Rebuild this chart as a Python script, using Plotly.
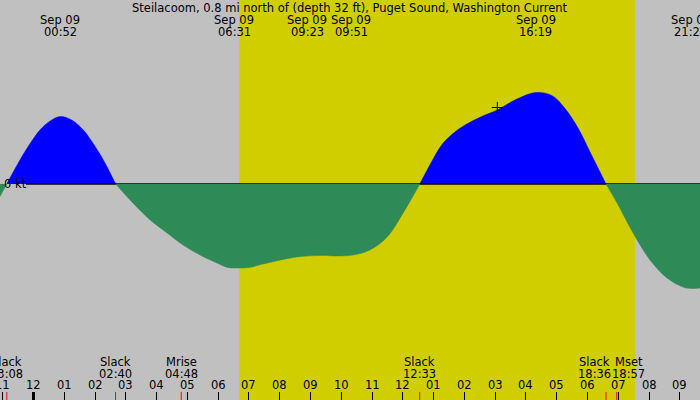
import plotly.graph_objects as go

# -----------------------------
# Data (hours after midnight Sep 09, knots)
# -----------------------------
times_h = [-1.09, -0.87, -0.44, -0.11, 0.21, 0.54, 0.87, 1.24, 1.62, 1.94, 2.27, 2.67,
           3.23, 3.79, 4.34, 4.86, 5.41, 5.96, 6.30, 6.52, 7.00, 7.46, 8.56, 9.38, 9.85,
           10.38, 10.93, 11.49, 12.01, 12.55, 12.94, 13.26, 13.59, 14.02, 14.56, 15.07,
           15.64, 16.32, 16.84, 17.27, 17.70, 18.13, 18.60, 18.96, 19.48, 20.03,
           20.58, 21.10, 21.35, 21.66]
current_kt = [-0.25, 0.0, 0.48, 0.81, 1.08, 1.26, 1.35, 1.28, 1.08, 0.81, 0.48, 0.0,
              -0.38, -0.72, -0.98, -1.22, -1.42, -1.58, -1.67, -1.68, -1.67, -1.60, -1.46, -1.43, -1.44,
              -1.42, -1.32, -1.06, -0.58, 0.0, 0.45, 0.78, 0.99, 1.18, 1.35, 1.48,
              1.68, 1.83, 1.77, 1.51, 1.11, 0.58, 0.0, -0.38, -0.98, -1.52,
              -1.88, -2.06, -2.09, -2.08]

# max / min current events shown along the top
top_times = [0.867, 6.517, 9.383, 9.85, 16.317, 21.35]
top_dates = ["Sep 09"] * 6
top_labels = ["00:52", "06:31", "09:23", "09:51", "16:19", "21:21"]

# slack water and moon events along the bottom
bottom_times = [-0.867, 2.667, 4.8, 12.55, 18.6, 18.95]
bottom_names = ["Slack", "Slack", "Mrise", "Slack", "Slack", "Mset"]
bottom_labels = ["23:08", "02:40", "04:48", "12:33", "18:36", "18:57"]

hour_vals = list(range(-1, 22))
hour_labels = ["11", "12", "01", "02", "03", "04", "05", "06", "07", "08", "09",
               "10", "11", "12", "01", "02", "03", "04", "05", "06", "07", "08", "09"]

sunrise_h = 6.68
sunset_h = 19.54
now_h = 15.07
now_kt = 1.53

title = "Steilacoom, 0.8 mi north of (depth 32 ft), Puget Sound, Washington Current"

# -----------------------------
# Layout constants
# -----------------------------
W, H = 700, 400
X_RANGE = [-1.088, 21.654]
Y_RANGE = [-4.32, 3.68]
PX_PER_H = W / (X_RANGE[1] - X_RANGE[0])
FONT = "DejaVu Sans"
FSIZE = 11.5
GRAY = "#c0c0c0"
DAY = "#d0ce00"
FLOOD = "#0000ff"
EBB = "#2e8b57"


def spread(times, min_px):
    # push overlapping labels apart, keep their mean
    pos = list(times)
    gap = min_px / PX_PER_H
    for i in range(1, len(pos)):
        if pos[i] - pos[i - 1] < gap:
            mid = (pos[i] + pos[i - 1]) / 2
            pos[i - 1] = mid - gap / 2
            pos[i] = mid + gap / 2
    return pos


def py(pix):
    # pixel row from top -> paper y
    return 1 - pix / H


def segments(t, v):
    # split the curve at slack points into flood / ebb pieces
    segs = []
    cur_t, cur_v = [t[0]], [v[0]]
    for ti, vi in zip(t[1:], v[1:]):
        cur_t.append(ti)
        cur_v.append(vi)
        if vi == 0:
            segs.append((cur_t, cur_v))
            cur_t, cur_v = [ti], [vi]
    if len(cur_t) > 1:
        segs.append((cur_t, cur_v))
    return segs


fig = go.Figure()

flood, ebb = [], []
for st, sv in segments(times_h, current_kt):
    if sum(sv) >= 0:
        flood.append((st, sv))
    else:
        ebb.append((st, sv))

for st, sv in flood:
    fig.add_trace(go.Scatter(x=st, y=sv, mode="lines", fill="tozeroy",
                             fillcolor=FLOOD, line=dict(color=FLOOD, width=0.5, shape="spline"),
                             hoverinfo="skip"))

# zero line (hidden under the ebb fill)
fig.add_trace(go.Scatter(x=[-0.244, X_RANGE[1]], y=[0, 0], mode="lines",
                         line=dict(color="black", width=1.5), hoverinfo="skip"))

for st, sv in ebb:
    fig.add_trace(go.Scatter(x=st, y=sv, mode="lines", fill="tozeroy",
                             fillcolor=EBB, line=dict(color=EBB, width=0.5, shape="spline"),
                             hoverinfo="skip"))

fig.add_trace(go.Scatter(x=[now_h], y=[now_kt], mode="markers",
                         marker=dict(symbol="cross-thin", size=8,
                                     line=dict(color="black", width=1)),
                         hoverinfo="skip"))

shapes = [dict(type="rect", xref="x", yref="paper", x0=sunrise_h, x1=sunset_h,
               y0=0, y1=1, fillcolor=DAY, line_width=0, layer="below")]
shapes.append(dict(type="line", xref="x", yref="paper", x0=0, x1=0, y0=0, y1=8 / H,
                   line=dict(color="black", width=3)))
for bt in bottom_times:
    shapes.append(dict(type="line", xref="x", yref="paper", x0=bt, x1=bt, y0=0, y1=8 / H,
                       line=dict(color="red", width=1)))

font = dict(family=FONT, size=FSIZE, color="black")
ann = [dict(text=title, xref="paper", yref="paper", x=0.5, y=py(8),
            showarrow=False, font=font, xanchor="center", yanchor="middle"),
       dict(text="0 kt", xref="paper", yref="y", x=2 / W, y=0, showarrow=False,
            font=font, xanchor="left", yanchor="middle")]

for x, d, lab in zip(spread(top_times, 44), top_dates, top_labels):
    ann.append(dict(text=d, x=x, y=py(20), xref="x", yref="paper", showarrow=False,
                    font=font, xanchor="center", yanchor="middle"))
    ann.append(dict(text=lab, x=x, y=py(32), xref="x", yref="paper", showarrow=False,
                    font=font, xanchor="center", yanchor="middle"))

for x, n, lab in zip(spread(bottom_times, 34.5), bottom_names, bottom_labels):
    ann.append(dict(text=n, x=x, y=py(362), xref="x", yref="paper", showarrow=False,
                    font=font, xanchor="center", yanchor="middle"))
    ann.append(dict(text=lab, x=x, y=py(374), xref="x", yref="paper", showarrow=False,
                    font=font, xanchor="center", yanchor="middle"))

for hv, hl in zip(hour_vals, hour_labels):
    ann.append(dict(text=hl, x=hv, y=py(385), xref="x", yref="paper", showarrow=False,
                    font=font, xanchor="center", yanchor="middle"))

fig.update_layout(
    width=W, height=H,
    margin=dict(l=0, r=0, t=0, b=0),
    paper_bgcolor=GRAY, plot_bgcolor=GRAY,
    showlegend=False,
    shapes=shapes,
    annotations=ann,
    xaxis=dict(range=X_RANGE, showgrid=False, zeroline=False, showticklabels=False,
               ticks="inside", ticklen=8, tickwidth=1, tickcolor="black",
               tickvals=hour_vals, showline=False, fixedrange=True),
    yaxis=dict(range=Y_RANGE, visible=False, fixedrange=True),
)

# drop the page's default body margin so the chart fills the window
fig.write_html("out.html", config={"displayModeBar": False},
               post_script="document.body.style.margin='0';")
